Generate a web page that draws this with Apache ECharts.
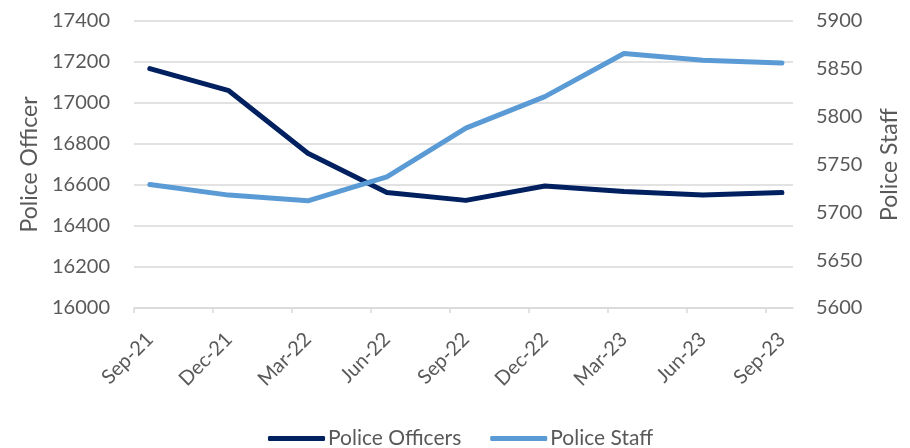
<!DOCTYPE html>
<html>
<head>
<meta charset="utf-8">
<script src="https://cdn.jsdelivr.net/npm/echarts@6/dist/echarts.min.js"></script>
<style>
html,body{margin:0;padding:0;background:#fff;}
#chart{width:910px;height:448px;}
</style>
</head>
<body>
<div id="chart"></div>
<script>
var categories = ['Sep-21','Dec-21','Mar-22','Jun-22','Sep-22','Dec-22','Mar-23','Jun-23','Sep-23'];
var policeOfficers = [17168, 17060, 16755, 16563, 16525, 16595, 16568, 16551, 16563];
var policeStaff = [5729, 5718, 5712, 5737, 5788, 5821, 5866, 5859, 5856];
var leftTicks = {min: 16000, max: 17400, interval: 200};
var rightTicks = {min: 5600, max: 5900, interval: 50};

var FONT = 'Lato';
var GREY = '#595959';
var GRID = '#d9d9d9';
var tickOffset = 0.2;

var labelValues = categories.map(function(c, i){ return i; });
var tickValues = categories.map(function(c, i){ return i - tickOffset; });

function pairs(arr){ return arr.map(function(v, i){ return [i, v]; }); }
function plain(v){ return String(v); }

var chart = echarts.init(document.getElementById('chart'));
chart.setOption({
  animation: false,
  backgroundColor: '#ffffff',
  textStyle: {fontFamily: FONT},
  grid: {left: 134, right: 117, top: 21, bottom: 140, containLabel: false},
  legend: {
    data: ['Police Officers', 'Police Staff'],
    left: 263, top: 423,
    icon: 'roundRect',
    itemWidth: 57, itemHeight: 5, itemGap: 29,
    textStyle: {fontFamily: FONT, fontSize: 21, color: GREY, padding: [0,0,0,-2]}
  },
  xAxis: {
    type: 'value',
    min: -tickOffset,
    max: categories.length - 1 + 0.14,
    splitLine: {show: false},
    axisLine: {show: true, lineStyle: {color: GRID, width: 1.5}},
    axisTick: {show: true, length: 5, customValues: tickValues, lineStyle: {color: GRID, width: 1.5}},
    axisLabel: {
      customValues: labelValues,
      rotate: 45, margin: 28,
      fontFamily: FONT, fontSize: 20, color: GREY,
      formatter: function(v){ return categories[Math.round(v)] || ''; }
    }
  },
  yAxis: [{
    type: 'value',
    min: leftTicks.min, max: leftTicks.max, interval: leftTicks.interval,
    name: 'Police Officer', nameLocation: 'middle', nameGap: 90, nameRotate: 90,
    nameTextStyle: {fontFamily: FONT, fontSize: 23, color: GREY},
    axisLine: {show: false}, axisTick: {show: false},
    axisLabel: {margin: 24, fontFamily: FONT, fontSize: 20, color: GREY, formatter: plain},
    splitLine: {show: true, lineStyle: {color: GRID, width: 1.5}}
  }, {
    type: 'value',
    min: rightTicks.min, max: rightTicks.max, interval: rightTicks.interval,
    name: 'Police Staff', nameLocation: 'middle', nameGap: 85, nameRotate: 90,
    nameTextStyle: {fontFamily: FONT, fontSize: 23, color: GREY},
    axisLine: {show: false}, axisTick: {show: false},
    axisLabel: {margin: 23, fontFamily: FONT, fontSize: 20, color: GREY, formatter: plain},
    splitLine: {show: false}
  }],
  series: [{
    name: 'Police Officers', type: 'line', yAxisIndex: 0,
    data: pairs(policeOfficers),
    showSymbol: false, symbol: 'none',
    lineStyle: {color: '#002060', width: 5, cap: 'round', join: 'round'},
    itemStyle: {color: '#002060'}
  }, {
    name: 'Police Staff', type: 'line', yAxisIndex: 1,
    data: pairs(policeStaff),
    showSymbol: false, symbol: 'none',
    lineStyle: {color: '#5b9bd5', width: 5, cap: 'round', join: 'round'},
    itemStyle: {color: '#5b9bd5'}
  }]
});
</script>
</body>
</html>
